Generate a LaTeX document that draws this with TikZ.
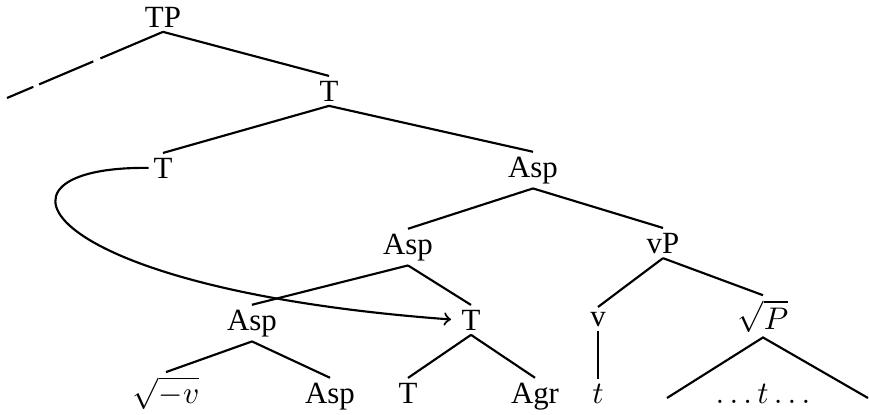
\documentclass[tikz,border=0pt]{standalone}
\usepackage{fontspec}
\setmainfont{Liberation Serif}

\begin{document}
\begin{tikzpicture}[x=0.35pt,y=-0.35pt,
		lbl/.style={anchor=base,inner sep=1.5pt,font=\fontsize{10.8}{13}\selectfont},
		edge/.style={line width=0.75pt}]
		\useasboundingbox (0,0) rectangle (869,415);
		\node[lbl] (TP) at (163,27) {TP};
		\node[lbl] (T1) at (329,101) {T};
		\node[lbl] (T2) at (163,178) {T};
		\node[lbl] (Asp1) at (533,177) {Asp};
		\node[lbl] (Asp2) at (408,254) {Asp};
		\node[lbl] (vP) at (663,253) {vP};
		\node[lbl] (Asp3) at (252,330) {Asp};
		\node[lbl] (T3) at (471,330) {T};
		\node[lbl] (v) at (598,326) {v};
		\node[lbl] (sqP) at (763,329) {$\sqrt{P}$};
		\node[lbl] (sqv) at (166,403) {$\sqrt{-v}$};
		\node[lbl] (Asp4) at (330,403) {Asp};
		\node[lbl] (T4) at (408,403) {T};
		\node[lbl] (Agr) at (535,403) {Agr};
		\node[lbl] (tr) at (598,403) {$t$};
		\node[lbl] (dots) at (763,403) {$\ldots t\ldots$};
		\coordinate (Spec) at (7,98);
		\coordinate (triL) at (667,398);
		\coordinate (triR) at (868,398);
		\draw[edge,dash pattern=on 23.8pt off 2.7pt on 20.6pt off 2.2pt on 12pt] (TP.south) -- (Spec);
		\draw[edge] (TP.south) -- (T1.north);
		\draw[edge] (T1.south) -- (T2.north);
		\draw[edge] (T1.south) -- (Asp1.north);
		\draw[edge] (Asp1.south) -- (Asp2.north);
		\draw[edge] (Asp1.south) -- (vP.north);
		\draw[edge] (Asp2.south) -- (Asp3.north);
		\draw[edge] (Asp2.south) -- (T3.north);
		\draw[edge] (Asp3.south) -- (sqv.north);
		\draw[edge] (Asp3.south) -- (Asp4.north);
		\draw[edge] (T3.south) -- (T4.north);
		\draw[edge] (T3.south) -- (Agr.north);
		\draw[edge] (vP.south) -- (v.north);
		\draw[edge] (vP.south) -- (sqP.north);
		\draw[edge] (v.south) -- (tr.north);
		\draw[edge] (triL) -- (sqP.south) -- (triR);
		\draw[edge,->,shorten >=2pt] (T2.west) .. controls +(-178,-2) and +(-422,-31) .. (T3.west);
	\end{tikzpicture}
\end{document}
